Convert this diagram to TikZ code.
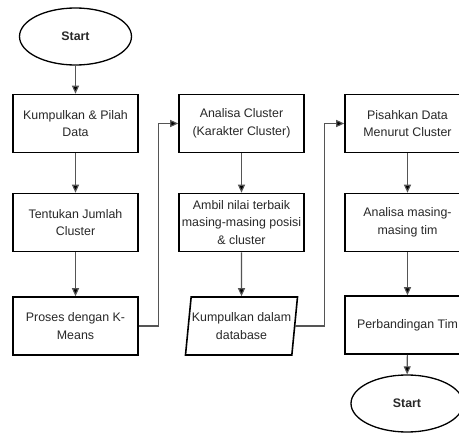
\documentclass[tikz,border=0pt]{standalone}
\usepackage{fontspec}
\setmainfont{Liberation Sans}
\usepackage{tikz}
\usetikzlibrary{arrows.meta, positioning, shapes.geometric}
\usepackage{xcolor}
\definecolor{flowline}{RGB}{85,85,85}
\definecolor{flowtext}{RGB}{40,40,40}

\tikzset{
  terminal/.style={ellipse, draw=black, line width=1.3pt, minimum width=112pt,
                   minimum height=57pt, inner sep=0pt,
                   font=\fontsize{12.4}{17.5}\selectfont\bfseries, text=flowtext},
  process/.style={rectangle, draw=black, line width=1.6pt, minimum width=125pt,
                  minimum height=58pt, inner sep=0pt, align=center, text=flowtext},
  iobox/.style={trapezium, trapezium left angle=78, trapezium right angle=102,
                trapezium stretches body, draw=black, line width=1.6pt,
                minimum width=112pt, minimum height=58pt, inner sep=0pt,
                align=center, text=flowtext},
  flow/.style={draw=flowline, line width=1.1pt, -{Triangle[length=8pt, width=7pt, fill=black]}},
}

\begin{document}
\begin{tikzpicture}[x=1pt, y=-1pt, font=\fontsize{12.4}{17.5}\selectfont]
  % page area
  \clip (0,0) rectangle (459,434);
  \fill[white] (0,0) rectangle (459,434);

  % first column
  \node[terminal] (begin) at (75.5,36.5) {Start};
  \node[process] (collect) at (75.5,123.5) {Kumpulkan \& Pilah\\Data};
  \node[process] (count) at (75.5,222.5) {Tentukan Jumlah\\Cluster};
  \node[process] (kmeans) at (75.5,326) {Proses dengan K-\\Means};

  % second column
  \node[process] (analysis) at (241.5,123.5) {Analisa Cluster\\(Karakter Cluster)};
  \node[process] (best) at (241.5,222.5) {Ambil nilai terbaik\\masing-masing posisi\\\& cluster};
  \node[iobox] (store) at (241.5,326) {Kumpulkan dalam\\database};

  % third column
  \node[process] (split) at (407.5,123.5) {Pisahkan Data\\Menurut Cluster};
  \node[process] (teams) at (407.5,222.5) {Analisa masing-\\masing tim};
  \node[process] (compare) at (407.5,325) {Perbandingan Tim};
  \node[terminal] (finish) at (407,403.5) {Start};

  % connectors
  \draw[flow] (begin) -- (collect);
  \draw[flow] (collect) -- (count);
  \draw[flow] (count) -- (kmeans);
  \draw[flow] (kmeans.east) -| ([xshift=-20pt]analysis.west) -- (analysis.west);
  \draw[flow] (analysis) -- (best);
  \draw[flow] (best) -- (store);
  \draw[flow] (store.east) -| ([xshift=-20pt]split.west) -- (split.west);
  \draw[flow] (split) -- (teams);
  \draw[flow] (teams) -- (compare);
  \draw[flow] (compare) -- (finish);
\end{tikzpicture}
\end{document}
